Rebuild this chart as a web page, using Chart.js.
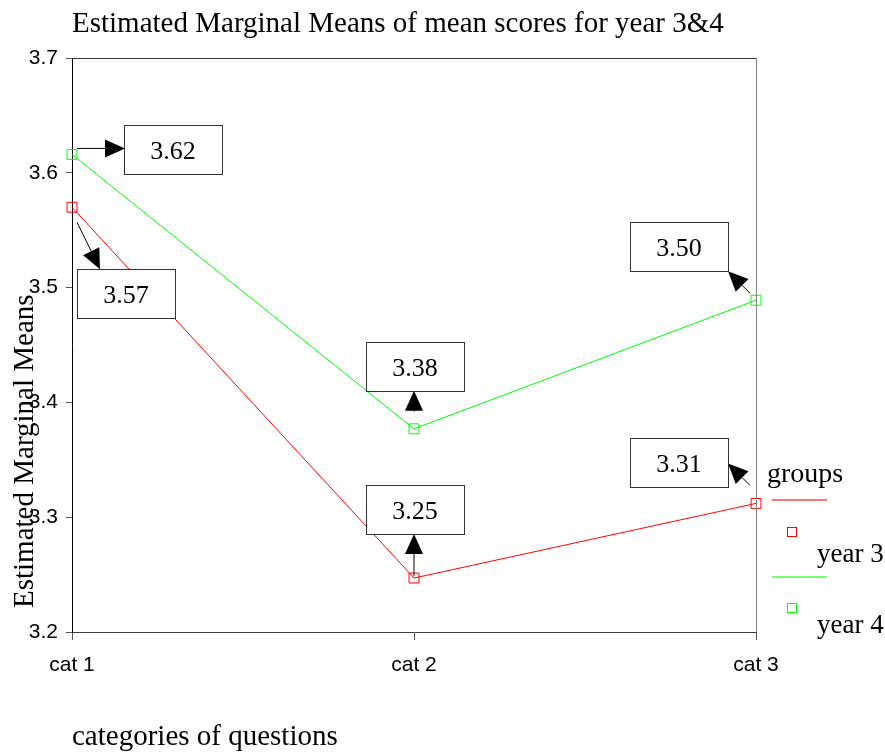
<!DOCTYPE html>
<html>
<head>
<meta charset="utf-8">
<script src="https://cdn.jsdelivr.net/npm/chart.js@4"></script>
<style>
  html, body { margin: 0; padding: 0; background: #fff; }
  #wrap { width: 885px; height: 755px; }
</style>
</head>
<body>
<div id="wrap"><canvas id="emm" width="885" height="755"></canvas></div>
<script>
var categories = ['cat 1', 'cat 2', 'cat 3'];
var year3 = [3.570, 3.247, 3.312];
var year4 = [3.616, 3.377, 3.489];
var year3Labels = ['3.57', '3.25', '3.31'];
var year4Labels = ['3.62', '3.38', '3.50'];
var yTicks = [3.2, 3.3, 3.4, 3.5, 3.6, 3.7];

var serif = "'Liberation Serif', 'Times New Roman', serif";
var sans = "'Liberation Sans', Arial, sans-serif";

// callout boxes: box centre, arrow start, arrow tip (pixel offsets from the point)
var callouts = {
  0: [ {box: [54, 86], from: [5, 15], to: [28, 62]},
       {box: [1, -69], from: [0, -2], to: [0, -44]},
       {box: [-77, -41], from: [-6, -18], to: [-28, -40]} ],
  1: [ {box: [101, -5], from: [5, -6], to: [53, -6]},
       {box: [1, -63], from: [0, -17], to: [0, -38]},
       {box: [-77, -54], from: [-6, -7], to: [-28, -29]} ]
};
var boxLabels = {0: year3Labels, 1: year4Labels};

function arrow(ctx, x1, y1, x2, y2) {
  var a = Math.atan2(y2 - y1, x2 - x1);
  var len = 20, hw = 9;
  var bx = x2 - len * Math.cos(a), by = y2 - len * Math.sin(a);
  ctx.strokeStyle = '#000';
  ctx.lineWidth = 1;
  ctx.beginPath();
  ctx.moveTo(x1, y1);
  ctx.lineTo(bx, by);
  ctx.stroke();
  ctx.fillStyle = '#000';
  ctx.beginPath();
  ctx.moveTo(x2, y2);
  ctx.lineTo(bx + hw * Math.sin(a), by - hw * Math.cos(a));
  ctx.lineTo(bx - hw * Math.sin(a), by + hw * Math.cos(a));
  ctx.closePath();
  ctx.fill();
}

var decor = {
  id: 'decor',
  afterDatasetsDraw: function(chart) {
    var ctx = chart.ctx;
    var ca = chart.chartArea;
    ctx.save();

    // top and right frame
    ctx.lineWidth = 1;
    ctx.strokeStyle = '#333';
    ctx.beginPath();
    ctx.moveTo(ca.left, ca.top + 0.5);
    ctx.lineTo(ca.right, ca.top + 0.5);
    ctx.stroke();
    ctx.strokeStyle = '#808080';
    ctx.beginPath();
    ctx.moveTo(ca.right + 0.5, ca.top);
    ctx.lineTo(ca.right + 0.5, ca.bottom);
    ctx.stroke();

    // value callouts
    chart.data.datasets.forEach(function(ds, di) {
      var meta = chart.getDatasetMeta(di);
      meta.data.forEach(function(pt, i) {
        var c = callouts[di][i];
        var cx = pt.x + c.box[0], cy = pt.y + c.box[1];
        arrow(ctx, pt.x + c.from[0], pt.y + c.from[1], pt.x + c.to[0], pt.y + c.to[1]);
        ctx.fillStyle = '#fff';
        ctx.fillRect(cx - 49, cy - 24, 98, 49);
        ctx.strokeStyle = '#333';
        ctx.strokeRect(Math.round(cx - 49) + 0.5, Math.round(cy - 24) + 0.5, 98, 49);
        ctx.fillStyle = '#000';
        ctx.font = '26px ' + serif;
        ctx.textAlign = 'center';
        ctx.textBaseline = 'alphabetic';
        ctx.fillText(boxLabels[di][i], cx, cy + 10);
      });
    });

    // titles
    ctx.fillStyle = '#000';
    ctx.textAlign = 'left';
    ctx.textBaseline = 'alphabetic';
    ctx.font = '29px ' + serif;
    ctx.fillText('Estimated Marginal Means of mean scores for year 3&4', ca.left, 32);
    ctx.fillText('categories of questions', ca.left, 745);
    ctx.save();
    ctx.translate(33, 608);
    ctx.rotate(-Math.PI / 2);
    ctx.fillText('Estimated Marginal Means', 0, 0);
    ctx.restore();

    // legend
    ctx.font = '28px ' + serif;
    ctx.fillText('groups', 767, 482);
    ctx.font = '27px ' + serif;
    var items = [
      {ds: 0, line: 500, mark: 532, text: 562},
      {ds: 1, line: 577, mark: 608, text: 633}
    ];
    items.forEach(function(it) {
      var ds = chart.data.datasets[it.ds];
      ctx.strokeStyle = ds.borderColor;
      ctx.globalAlpha = 0.55;
      ctx.lineWidth = 2;
      ctx.beginPath();
      ctx.moveTo(772, it.line);
      ctx.lineTo(827, it.line);
      ctx.stroke();
      ctx.globalAlpha = 1;
      ctx.lineWidth = 1;
      ctx.strokeRect(787.5, it.mark - 4.5, 9, 9);
      ctx.fillStyle = '#000';
      ctx.fillText(ds.label, 817, it.text);
    });

    ctx.restore();
  }
};

new Chart(document.getElementById('emm'), {
  type: 'line',
  data: {
    labels: categories,
    datasets: [
      {
        label: 'year 3',
        data: year3,
        borderColor: '#ff0000',
        borderWidth: 1,
        pointStyle: 'rect',
        pointRadius: 7,
        pointBorderWidth: 1,
        pointBackgroundColor: 'transparent',
        pointBorderColor: '#ff0000',
        tension: 0,
        clip: false
      },
      {
        label: 'year 4',
        data: year4,
        borderColor: '#00ff00',
        borderWidth: 1,
        pointStyle: 'rect',
        pointRadius: 7,
        pointBorderWidth: 1,
        pointBackgroundColor: 'transparent',
        pointBorderColor: '#00ff00',
        tension: 0,
        clip: false
      }
    ]
  },
  options: {
    responsive: false,
    animation: false,
    layout: { padding: { top: 58, right: 129, left: 0, bottom: 0 } },
    plugins: {
      legend: { display: false },
      title: { display: false },
      tooltip: { enabled: false }
    },
    scales: {
      x: {
        offset: false,
        afterFit: function(s) { s.height = 123; },
        grid: { drawOnChartArea: false, tickLength: 8, color: '#555' },
        border: { color: '#404040', width: 1 },
        ticks: { color: '#000', font: { family: sans, size: 21 }, padding: 13, maxRotation: 0 }
      },
      y: {
        min: yTicks[0],
        max: yTicks[yTicks.length - 1],
        afterFit: function(s) { s.width = 72; },
        afterBuildTicks: function(s) { s.ticks = yTicks.map(function(v) { return {value: v}; }); },
        grid: { drawOnChartArea: false, tickLength: 6, color: '#555' },
        border: { color: '#000', width: 1 },
        ticks: {
          color: '#000',
          font: { family: sans, size: 21 },
          padding: 8,
          callback: function(v) { return Number(v).toFixed(1); }
        }
      }
    }
  },
  plugins: [decor]
});
</script>
</body>
</html>
